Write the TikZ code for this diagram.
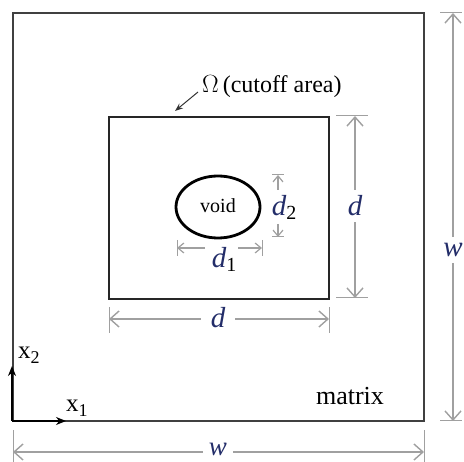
\documentclass[tikz,border=0pt]{standalone}
\usepackage{fontspec}
\setmainfont{Liberation Serif}
\usetikzlibrary{arrows.meta}
\definecolor{dimgray}{RGB}{160,160,160}
\definecolor{lblblue}{RGB}{35,45,105}
\tikzset{
  dimline/.style={draw=dimgray, line width=1.4pt, -{Straight Barb[length=9pt,width=16pt]}},
  dimsmall/.style={draw=dimgray, line width=1.2pt, -{Straight Barb[length=6pt,width=10pt]}},
  tickline/.style={draw=dimgray, line width=1pt},
  dimlabel/.style={font=\fontsize{29}{29}\selectfont\itshape, text=lblblue, inner sep=2pt},
  boxline/.style={draw=black!75, line width=1.2pt},
}
\begin{document}
\begin{tikzpicture}[x=1pt,y=-1pt]
\useasboundingbox (0,0) rectangle (464,462);
% outer matrix
\draw[boxline] (13,13) rectangle (424,421);
% inner cutoff area
\draw[boxline, draw=black!85] (109,117) rectangle (329,299);
% void
\draw[line width=2.8pt] (218,207) ellipse [x radius=42, y radius=31];
\node[font=\fontsize{20}{20}\selectfont] (void) at (218,206) {void};
% omega label
\node[font=\fontsize{24}{24}\selectfont, anchor=west, inner sep=1pt] (om) at (201,87) {$\Omega$\,(cutoff area)};
\coordinate (omtip) at (175,111);
\draw[line width=1pt, draw=black!80, -{Stealth[length=8pt,width=6pt]}] (om.west) ++(-3,5) coordinate (omstart) -- (omtip);
% matrix label
\node[font=\fontsize{26}{26}\selectfont] (mat) at (350,396) {matrix};
% axes
\coordinate (o) at (12,421);
\coordinate (ax1) at (66,421);
\coordinate (ax2) at (12,366);
\draw[line width=2pt, -{Stealth[length=10pt,width=8pt]}] (o) -- (ax1);
\draw[line width=2pt, -{Stealth[length=10pt,width=8pt]}] (o) -- (ax2);
\node[font=\fontsize{25}{25}\selectfont, anchor=west, inner sep=1pt] (x1) at (65,408) {x\raisebox{-0.4ex}{\fontsize{18}{18}\selectfont 1}};
\node[font=\fontsize{25}{25}\selectfont, anchor=west, inner sep=1pt] (x2) at (17,355) {x\raisebox{-0.4ex}{\fontsize{18}{18}\selectfont 2}};
% bottom w
\node[dimlabel, font=\fontsize{27}{27}\selectfont\itshape, inner sep=0pt, anchor=base] (wb) at (218,456) {w};
\coordinate (wbl) at (13,452); \coordinate (wbr) at (424,452);
\draw[tickline] (13,430) -- (13,462);
\draw[tickline] (424,430) -- (424,462);
\draw[dimline] (wb.west |- wbl) ++(-6,0) coordinate (wbw) -- (wbl);
\draw[dimline] (wb.east |- wbr) ++(6,0) coordinate (wbe) -- (wbr);
% right w
\node[dimlabel] (wr) at (453,250) {w};
\coordinate (wrt) at (453,13); \coordinate (wrb) at (453,421);
\draw[tickline] (440,13) -- (462,13);
\draw[tickline] (440,421) -- (462,421);
\draw[dimline] (wr.north) ++(0,-4) coordinate (wrn) -- (wrt);
\draw[dimline] (wr.south) ++(0,4) coordinate (wrs) -- (wrb);
% bottom d
\node[dimlabel] (db) at (218,318) {d};
\coordinate (dbl) at (109,319); \coordinate (dbr) at (329,319);
\draw[tickline] (109,307) -- (109,333);
\draw[tickline] (329,307) -- (329,333);
\draw[dimline] (db.west |- dbl) ++(-8,0) coordinate (dbw) -- (dbl);
\draw[dimline] (db.east |- dbr) ++(8,0) coordinate (dbe) -- (dbr);
% right d
\node[dimlabel] (dr) at (355,206) {d};
\coordinate (drt) at (355,116); \coordinate (drb) at (355,298);
\draw[tickline] (336,116) -- (368,116);
\draw[tickline] (336,298) -- (368,298);
\draw[dimline] (dr.north) ++(0,-4) coordinate (drn) -- (drt);
\draw[dimline] (dr.south) ++(0,4) coordinate (drs) -- (drb);
% d1
\node[dimlabel] (d1) at (224,259) {d\raisebox{-0.3ex}{\normalfont\fontsize{20}{20}\selectfont\color{black}1}};
\coordinate (d1l) at (177,248); \coordinate (d1r) at (262,248);
\draw[tickline] (177,240) -- (177,256);
\draw[tickline] (262,240) -- (262,256);
\draw[dimsmall] (205,248) coordinate (d1a) -- (d1l);
\draw[dimsmall] (238,248) coordinate (d1b) -- (d1r);
% d2
\node[dimlabel] (d2) at (284,207) {d\raisebox{-0.3ex}{\normalfont\fontsize{20}{20}\selectfont\color{black}2}};
\coordinate (d2t) at (278,175); \coordinate (d2b) at (278,237);
\draw[tickline] (272,175) -- (284,175);
\draw[tickline] (272,237) -- (284,237);
\draw[dimsmall] (278,190) coordinate (d2a) -- (d2t);
\draw[dimsmall] (278,224) coordinate (d2c) -- (d2b);
\end{tikzpicture}
\end{document}
